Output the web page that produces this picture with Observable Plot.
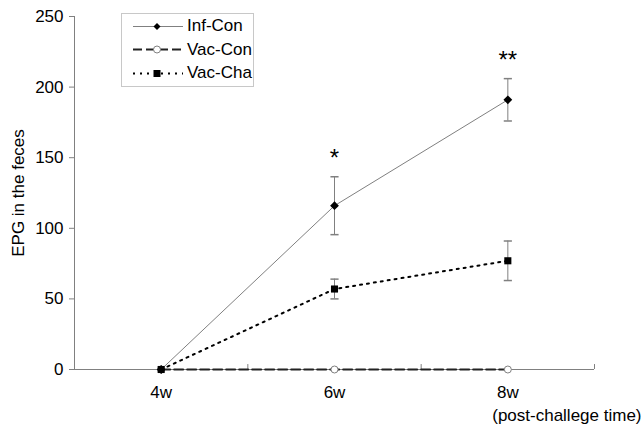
<!DOCTYPE html>
<html>
<head>
<meta charset="utf-8">
<script src="https://cdn.jsdelivr.net/npm/d3@7"></script>
<script src="https://cdn.jsdelivr.net/npm/@observablehq/plot@0.6"></script>
<style>
  body { margin: 0; background: #fff; font-family: "Liberation Sans", Arial, sans-serif; }
  #wrap { position: relative; width: 642px; height: 432px; }
  #legend { position: absolute; left: 121px; top: 13px; width: 133px; height: 74px; border: 1px solid #c8c8c8; background: #fff; box-sizing: border-box; }
  .item { position: absolute; left: 10px; height: 22px; display: flex; align-items: center; font-size: 17px; color: #000; }
  .item svg { margin-right: 3px; }
</style>
</head>
<body>
<div id="wrap"><div id="chart"></div><div id="legend"></div></div>
<script>
// ---- data ----
const weeks = [4, 6, 8];
const weekLabels = ["4w", "6w", "8w"];
const boundaries = [5, 7, 9];
const seriesNames = ["Inf-Con", "Vac-Con", "Vac-Cha"];
const infCon = [0, 116, 191];
const infConErr = [0, 20.5, 15];
const vacCon = [0, 0, 0];
const vacConErr = [0, 0, 0];
const vacCha = [0, 57, 77];
const vacChaErr = [0, 7, 14];
const sigLabels = ["", "*", "**"];
const sigHeights = [0, 152, 221];
const yTicks = [0, 50, 100, 150, 200, 250];

const rows = (name, vals, errs) => weeks.map((w, i) => ({series: name, week: w, value: vals[i], err: errs[i]}));
const infRows = rows("Inf-Con", infCon, infConErr);
const vcRows = rows("Vac-Con", vacCon, vacConErr);
const chRows = rows("Vac-Cha", vacCha, vacChaErr);
const errRows = [...infRows, ...chRows].filter(d => d.err > 0);
const sigRows = weeks.map((w, i) => ({week: w, label: sigLabels[i], h: sigHeights[i]})).filter(d => d.label);

const capSymbol = { draw(ctx, size) { const w = Math.sqrt(size); ctx.moveTo(-w, 0); ctx.lineTo(w, 0); } };
const diamondSymbol = { draw(ctx, size) { const w = Math.sqrt(size) * 0.62; ctx.moveTo(0, -w); ctx.lineTo(w, 0); ctx.lineTo(0, w); ctx.lineTo(-w, 0); ctx.closePath(); } };

const chart = Plot.plot({
  width: 642, height: 432,
  marginLeft: 74, marginRight: 48, marginTop: 16, marginBottom: 63,
  style: { fontFamily: "Liberation Sans, Arial, sans-serif", fontSize: "17px", color: "#000", background: "#fff" },
  x: { type: "linear", domain: [3, 9] },
  y: { domain: [0, 250] },
  marks: [
    Plot.frame({ anchor: "left", stroke: "#808080" }),
    Plot.ruleY([0], { stroke: "#808080" }),
    Plot.ruleX(boundaries, { y1: 0, y2: 3.5, stroke: "#808080" }),
    Plot.axisY({ ticks: yTicks, tickSize: 5, tickPadding: 6, stroke: "#808080", fill: "#000", fontSize: 17,
      label: "EPG in the feces", labelAnchor: "center", labelArrow: "none", labelOffset: 63 }),
    Plot.axisX({ ticks: weeks, tickSize: 0, tickPadding: 16, fontSize: 17, tickFormat: d => weekLabels[weeks.indexOf(d)], label: null }),
    // error bars
    Plot.ruleX(errRows, { x: "week", y1: d => d.value - d.err, y2: d => d.value + d.err, stroke: "#808080" }),
    Plot.dot(errRows, { x: "week", y: d => d.value + d.err, symbol: capSymbol, r: 2.3, stroke: "#808080", fill: "none" }),
    Plot.dot(errRows, { x: "week", y: d => d.value - d.err, symbol: capSymbol, r: 2.3, stroke: "#808080", fill: "none" }),
    // lines
    Plot.line(vcRows, { x: "week", y: "value", stroke: "#222", strokeWidth: 2, strokeDasharray: "9,4" }),
    Plot.line(chRows, { x: "week", y: "value", stroke: "#000", strokeWidth: 2, strokeDasharray: "2,5" }),
    Plot.line(infRows, { x: "week", y: "value", stroke: "#808080", strokeWidth: 1 }),
    // markers
    Plot.dot(vcRows, { x: "week", y: "value", r: 3.5, fill: "#fff", stroke: "#808080", strokeWidth: 1 }),
    Plot.dot(chRows, { x: "week", y: "value", symbol: "square", r: 4, fill: "#000" }),
    Plot.dot(infRows, { x: "week", y: "value", symbol: diamondSymbol, r: 4, fill: "#000" }),
    // significance
    Plot.text(sigRows, { x: "week", y: "h", text: "label", fontSize: 24, fill: "#000", dy: 3 }),
    Plot.text(["(post-challege time)"], { frameAnchor: "bottom-right", dx: 47, dy: 51, fontSize: 17, fill: "#000" })
  ]
});
document.getElementById("chart").appendChild(chart);

// legend (HTML)
const legendStyles = {
  "Inf-Con": { stroke: "#808080", width: 1, dash: null, marker: "diamond" },
  "Vac-Con": { stroke: "#222", width: 2, dash: "9,4", marker: "circle" },
  "Vac-Cha": { stroke: "#000", width: 2, dash: "2,5", marker: "square" }
};
const legend = document.getElementById("legend");
seriesNames.forEach((name, i) => {
  const st = legendStyles[name];
  const item = document.createElement("div");
  item.className = "item";
  item.style.top = (1 + i * 23.5) + "px";
  let marker = "";
  if (st.marker === "diamond") marker = '<path d="M25,7 L28.5,10.5 L25,14 L21.5,10.5 Z" fill="#000"/>';
  if (st.marker === "circle") marker = '<circle cx="25" cy="10.5" r="3.5" fill="#fff" stroke="#808080"/>';
  if (st.marker === "square") marker = '<rect x="21.5" y="7" width="7" height="7" fill="#000"/>';
  item.innerHTML = `<svg width="52" height="21"><line x1="1" x2="51" y1="10.5" y2="10.5" stroke="${st.stroke}" stroke-width="${st.width}" ${st.dash ? `stroke-dasharray="${st.dash}"` : ""}/>${marker}</svg><span>${name}</span>`;
  legend.appendChild(item);
});
</script>
</body>
</html>
